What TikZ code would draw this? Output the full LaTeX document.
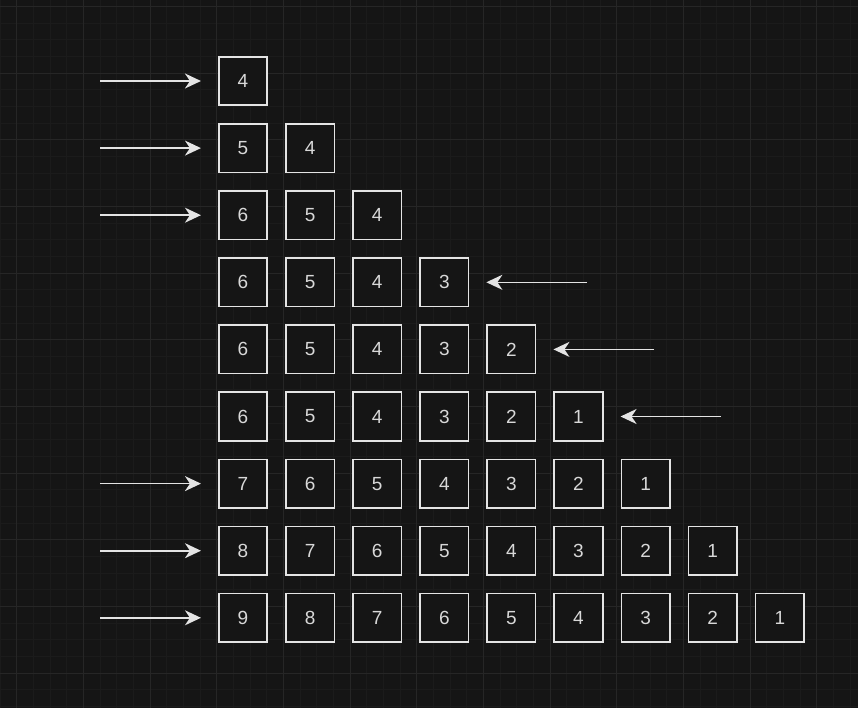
\documentclass[tikz,border=0pt]{standalone}
\usepackage{fontspec}
\setmainfont{Liberation Sans}
\usetikzlibrary{arrows.meta}
\definecolor{bg}{HTML}{151515}
\definecolor{gridminor}{HTML}{1B1B1B}
\definecolor{gridmajor}{HTML}{262626}
\definecolor{boxline}{HTML}{E4E4E4}
\definecolor{txt}{HTML}{D8D8D8}
\tikzset{
  cell/.style={draw=boxline,line width=1.6pt,fill=bg,minimum size=48.5pt,inner sep=0pt,
    text=txt,font=\fontsize{19}{22}\selectfont},
  push/.style={draw=boxline,line width=1.6pt,shorten >=17pt,
    -{Stealth[length=16pt,width=15pt,inset=5pt]}}
}
\begin{document}
\begin{tikzpicture}[x=1pt,y=-1pt]
\useasboundingbox (0,0) rectangle (858,708);
\fill[bg] (0,0) rectangle (858,708);
% grid
\foreach \i in {0,...,52} \draw[gridminor,line width=0.8pt] (16.67*\i,0) -- (16.67*\i,708);
\foreach \i in {-1,...,42} \draw[gridminor,line width=0.8pt] (0,6.3+16.67*\i) -- (858,6.3+16.67*\i);
\foreach \i in {0,...,13} \draw[gridmajor,line width=0.9pt] (16.67+66.67*\i,0) -- (16.67+66.67*\i,708);
\foreach \i in {0,...,10} \draw[gridmajor,line width=0.9pt] (0,6.3+66.67*\i) -- (858,6.3+66.67*\i);
% rows of cells: row/first value
\foreach \r/\s in {1/4,2/5,3/6,4/6,5/6,6/6,7/7,8/8,9/9}{
  \foreach \c in {1,...,\r}{
    \pgfmathtruncatemacro{\v}{\s-\c+1}
    \node[cell] (c-\r-\c) at ({243+67.1*(\c-1)},{81+67.1*(\r-1)}) {\v};
  }
}
% arrows in from the left
\foreach \r in {1,2,3,7,8,9}{
  \coordinate (in-\r) at (100,{81+67.1*(\r-1)});
  \draw[push] (in-\r) -- (c-\r-1.west);
}
% arrows in from the right
\foreach \r/\x in {4/587,5/654,6/721}{
  \coordinate (out-\r) at (\x,{81+67.1*(\r-1)});
  \draw[push] (out-\r) -- (c-\r-\r.east);
}
\end{tikzpicture}
\end{document}
